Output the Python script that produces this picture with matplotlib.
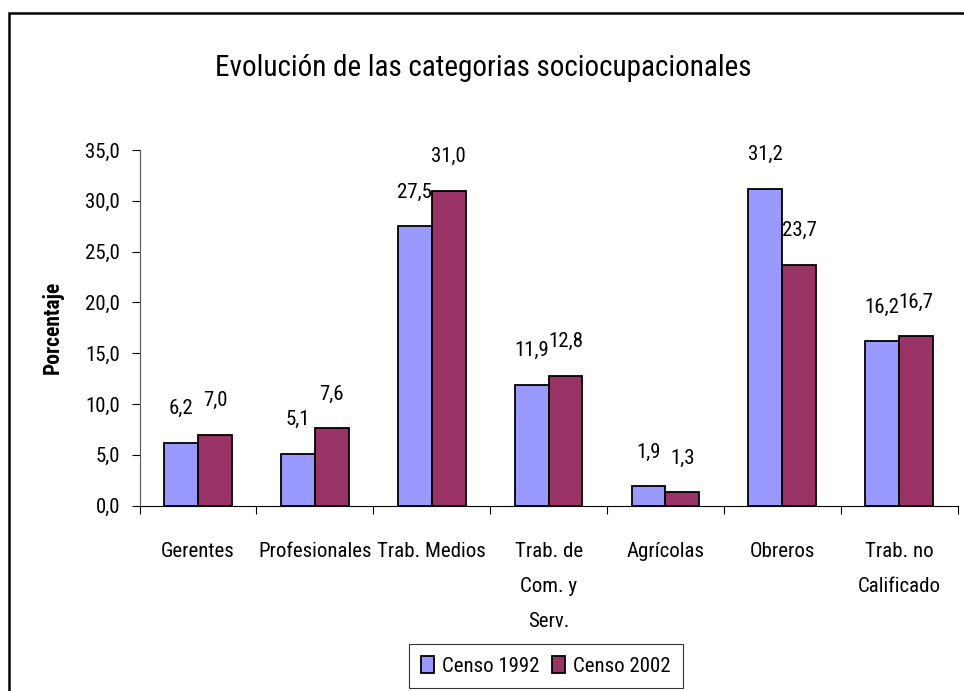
import matplotlib
matplotlib.use("Agg")
import matplotlib.pyplot as plt
from matplotlib import font_manager
from matplotlib.patches import Rectangle
import numpy as np

# data
categorias = ["Gerentes", "Profesionales", "Trab. Medios", "Trab. de\nCom. y\nServ.",
              "Agrícolas", "Obreros", "Trab. no\nCalificado"]
censo_1992 = [6.2, 5.1, 27.5, 11.9, 1.9, 31.2, 16.2]
censo_2002 = [7.0, 7.6, 31.0, 12.8, 1.3, 23.7, 16.7]
series_names = ["Censo 1992", "Censo 2002"]
yticks = [0, 5, 10, 15, 20, 25, 30, 35]

# a narrow font, close to Arial Narrow
names = {f.name for f in font_manager.fontManager.ttflist}
fam = "Liberation Sans"
for cand in ["Liberation Sans Narrow", "Arial Narrow", "Roboto Condensed",
             "Archivo Narrow", "PT Sans Narrow", "Open Sans Condensed"]:
    if cand in names:
        fam = cand
        break
plt.rcParams["font.family"] = [fam, "DejaVu Sans"]

W, H = 964, 691
fig = plt.figure(figsize=(W / 100, H / 100), dpi=100)
ax = fig.add_axes([139.5 / W, 1 - 505.7 / H, 818.2 / W, 355.7 / H])

x = np.arange(len(categorias))
bw = 0.29
b1 = ax.bar(x - bw / 2, censo_1992, bw, color="#9999FF", edgecolor="black", linewidth=1.3,
            label=series_names[0])
b2 = ax.bar(x + bw / 2, censo_2002, bw, color="#993366", edgecolor="black", linewidth=1.3,
            label=series_names[1])

def fmt(v):
    return ("%.1f" % v).replace(".", ",")

fs = 15
for bars, vals in [(b1, censo_1992), (b2, censo_2002)]:
    for r, v in zip(bars, vals):
        ax.annotate(fmt(v), (r.get_x() + r.get_width() / 2, v), xytext=(0, 24.5),
                    textcoords="offset points", ha="center", va="center", fontsize=fs)

ax.set_xlim(-0.5, len(categorias) - 0.5)
ax.set_ylim(0, 35)
ax.set_yticks(yticks)
ax.set_yticklabels([fmt(t) for t in yticks], fontsize=fs)
ax.tick_params(axis="y", length=6, width=0.8, pad=8, color="black")

ax.set_xticks(x)
ax.set_xticklabels(categorias, fontsize=fs, linespacing=2.07)
ax.tick_params(axis="x", which="major", length=0, pad=26)
ax.set_xticks(np.arange(-0.5, len(categorias)), minor=True)
ax.tick_params(axis="x", which="minor", length=6, width=0.8, color="black")

for s in ["top", "right"]:
    ax.spines[s].set_visible(False)
ax.spines["left"].set_color("#555555")
ax.spines["left"].set_linewidth(0.8)
ax.spines["bottom"].set_linewidth(0.8)

ax.set_ylabel("Porcentaje", fontsize=15.5, fontweight="bold")
ax.yaxis.set_label_coords(-76 / 818.2, 0.5)

fig.text(483 / W, 1 - 76 / H, "Evolución de las categorias sociocupacionales",
         ha="center", va="baseline", fontsize=21)

leg = fig.legend(loc="center", bbox_to_anchor=(546 / W, 1 - 666 / H), ncol=2,
                 fontsize=fs, frameon=True, fancybox=False, edgecolor="black",
                 handlelength=0.6, handleheight=0.9, handletextpad=0.4,
                 columnspacing=0.6, borderpad=0.6)
leg.get_frame().set_linewidth(0.8)

# outer chart border (runs off the right and bottom of the picture)
fig.patches.append(Rectangle((8.5 / W, -0.1), 1.2, 1.1 - 13.5 / H, transform=fig.transFigure,
                             fill=False, edgecolor="black", linewidth=1.8))

fig.savefig("out.png", dpi=100)
